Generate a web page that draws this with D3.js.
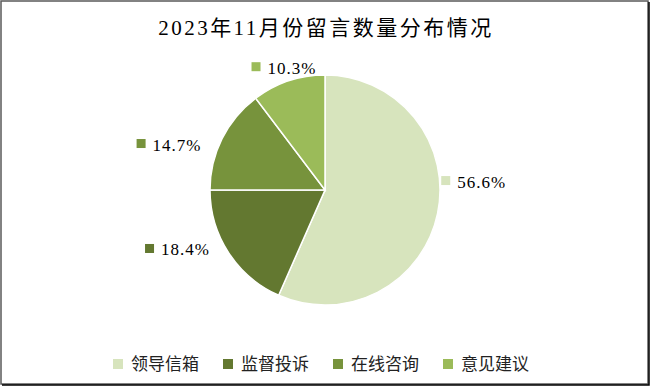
<!DOCTYPE html>
<html lang="zh">
<head>
<meta charset="UTF-8">
<title>2023年11月份留言数量分布情况</title>
<script src="https://d3js.org/d3.v7.min.js"></script>
<style>
  body { margin: 0; background: #fff; }
</style>
</head>
<body>
<div id="chart"></div>
<script>
  var width = 650, height = 386;

  var categories = ["领导信箱", "监督投诉", "在线咨询", "意见建议"];
  var shares = [56.6, 18.4, 14.7, 10.3];
  var colors = ["#d7e4bd", "#637830", "#77933c", "#9bbb59"];
  var title = "2023年11月份留言数量分布情况";

  var svg = d3.select("#chart").append("svg")
      .attr("width", width)
      .attr("height", height);

  // chart frame
  svg.append("rect")
      .attr("x", 1).attr("y", 1)
      .attr("width", width - 3).attr("height", height - 3)
      .attr("fill", "#fff")
      .attr("stroke", "#595959")
      .attr("stroke-width", 1.5);
  svg.append("path")
      .attr("d", "M" + (width - 1) + ",2V" + (height - 1) + "H2")
      .attr("fill", "none")
      .attr("stroke", "#000")
      .attr("stroke-width", 1.5);

  svg.append("text")
      .attr("x", width / 2 + 1)
      .attr("y", 35)
      .attr("text-anchor", "middle")
      .attr("font-family", "'Liberation Serif', 'Noto Sans CJK SC', serif")
      .attr("font-size", "21px")
      .attr("letter-spacing", "2.5px")
      .attr("fill", "#000")
      .text(title);

  var cx = 325, cy = 190, r = 115;

  var pie = d3.pie().sort(null).value(function(d) { return d; });
  var arcs = pie(shares);

  var arc = d3.arc().innerRadius(0).outerRadius(r);
  var g = svg.append("g").attr("transform", "translate(" + cx + "," + cy + ")");

  g.selectAll("path.slice")
      .data(arcs)
      .enter().append("path")
      .attr("class", "slice")
      .attr("d", arc)
      .attr("fill", function(d, i) { return colors[i]; })
      .attr("stroke", "#fff")
      .attr("stroke-width", 1.5);

  // data labels just outside the pie along each slice's mid angle,
  // with small best-fit nudges like the spreadsheet does
  var labelR = r + 14;
  var nudge = [[-10, -35], [-7, -11], [-8, 12], [0, 0]];
  var labels = g.selectAll("g.label")
      .data(arcs)
      .enter().append("g")
      .attr("class", "label")
      .attr("transform", function(d, i) {
        var a = (d.startAngle + d.endAngle) / 2;
        return "translate(" + (Math.sin(a) * labelR + nudge[i][0]) + "," +
          (-Math.cos(a) * labelR + nudge[i][1]) + ")";
      });

  labels.each(function(d, i) {
    var a = (d.startAngle + d.endAngle) / 2;
    var s = Math.sin(a);
    var sel = d3.select(this);
    var box = 9, gap = 7;
    var t = sel.append("text")
        .attr("y", 6)
        .attr("font-family", "'Liberation Serif', serif")
        .attr("font-size", "17px")
        .attr("letter-spacing", "1px")
        .attr("fill", "#000")
        .text(d3.format(".1f")(shares[i]) + "%");
    var tw = t.node().getComputedTextLength();
    var x0;
    if (Math.abs(s) < 0.4) x0 = -(box + gap + tw) / 2;
    else if (s > 0) x0 = 0;
    else x0 = -(box + gap + tw);
    t.attr("x", x0 + box + gap);
    sel.insert("rect", "text")
        .attr("x", x0).attr("y", -box / 2 - 1)
        .attr("width", box).attr("height", box)
        .attr("fill", colors[i]);
  });

  // legend
  var legend = svg.append("g").attr("transform", "translate(113,364)");
  var item = legend.selectAll("g")
      .data(categories)
      .enter().append("g")
      .attr("transform", function(d, i) { return "translate(" + (i * 110) + ",0)"; });
  item.append("rect")
      .attr("x", 0).attr("y", -5)
      .attr("width", 10).attr("height", 10)
      .attr("fill", function(d, i) { return colors[i]; });
  item.append("text")
      .attr("x", 18).attr("y", 6)
      .attr("font-family", "'Noto Sans CJK SC', sans-serif")
      .attr("font-size", "17px")
      .attr("fill", "#222")
      .text(function(d) { return d; });
</script>
</body>
</html>
